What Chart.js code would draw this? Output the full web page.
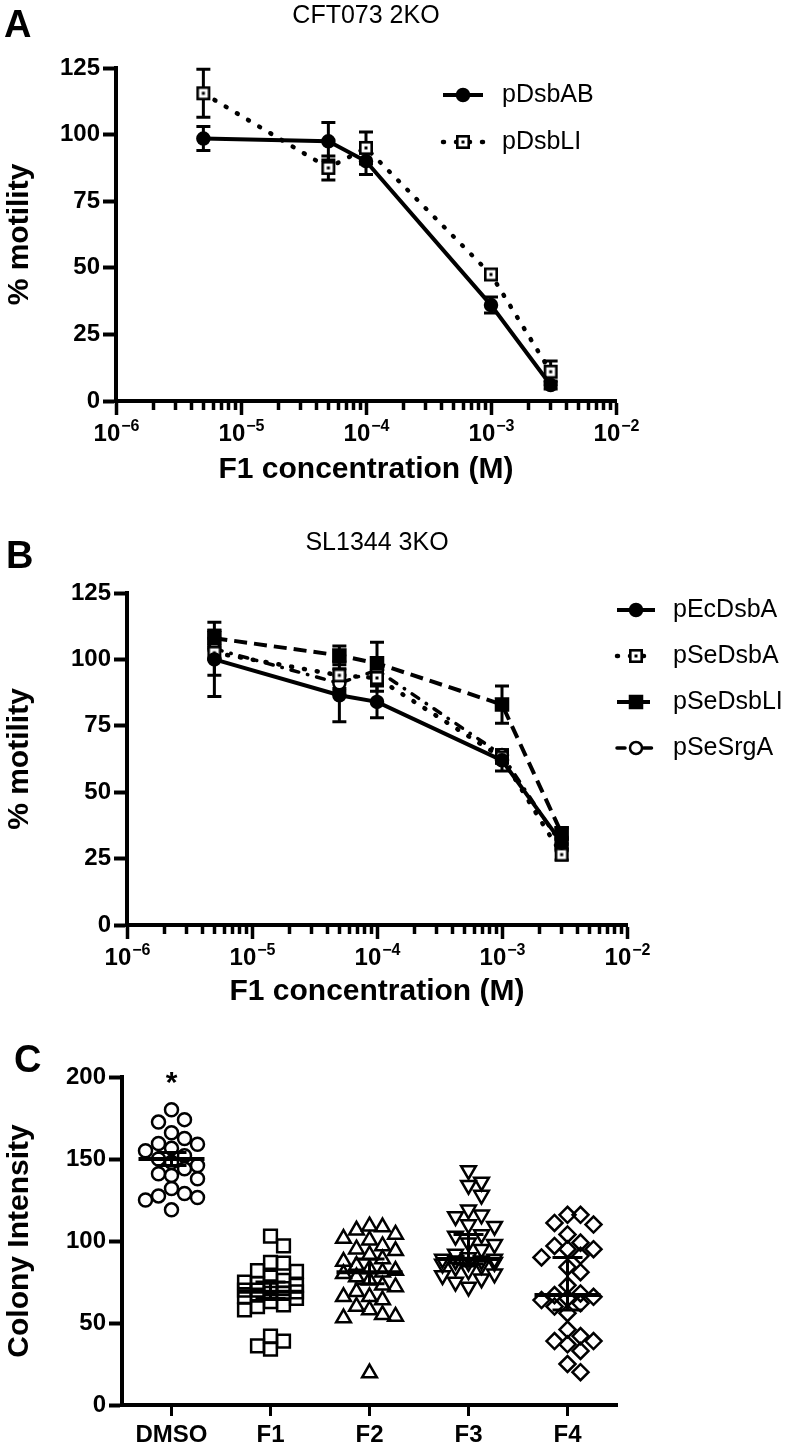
<!DOCTYPE html>
<html>
<head>
<meta charset="utf-8">
<script src="https://cdn.jsdelivr.net/npm/chart.js@4.4.1/dist/chart.umd.min.js"></script>
<style>
  html, body { margin: 0; padding: 0; background: #fff; }
  body { width: 792px; height: 1448px; position: relative; overflow: hidden; }
  canvas { position: absolute; left: 0; }
  #chartA { top: 0; }
  #chartB { top: 490px; }
  #chartC { top: 1010px; }
</style>
</head>
<body>
<canvas id="chartA" width="792" height="490"></canvas>
<canvas id="chartB" width="792" height="520"></canvas>
<canvas id="chartC" width="792" height="438"></canvas>
<script>
// panel A - CFT073 2KO
const concA = [5e-6, 5e-5, 1e-4, 1e-3, 3e-3];
const dsbAB = [98.5, 97.5, 90, 36, 6];
const dsbABErr = [4.5, 7, 5, 3, 1.5];
const dsbLI = [115.5, 87.5, 95, 47.5, 11];
const dsbLIErr = [9, 4.5, 6, 1.5, 4];

// panel B - SL1344 3KO
const concB = [5e-6, 5e-5, 1e-4, 1e-3, 3e-3];
const ecDsbA = [100, 86.5, 84, 62, 31];
const ecDsbAErr = [14, 10, 6, 4, 2];
const seDsbA = [102.5, 94, 93, 63, 26.5];
const seDsbAErr = [8.5, 5, 5, 2, 2];
const seDsbLI = [108, 101.5, 98.5, 83, 34.5];
const seDsbLIErr = [3, 3.5, 8, 7, 2];
const seSrgA = [104, 91, 96, 64, 30];
const seSrgAErr = [4, 3, 4, 2, 2];

const decadeExps = [-6, -5, -4, -3, -2];
const motilityTicks = [0, 25, 50, 75, 100, 125];

// panel C - colony intensity
const groups = ['DMSO', 'F1', 'F2', 'F3', 'F4'];
const dmso = [180, 174, 172.5, 166, 162.5, 159.5, 159, 156.5, 155, 152, 150, 148, 146, 144, 141, 140, 138, 132, 129, 127.5, 126.5, 125, 119];
const f1 = [103, 97, 87, 86.5, 82, 81.5, 78, 76, 75, 74, 73, 72, 71, 70, 70, 69, 68, 68, 67, 66, 65, 63, 61, 60, 58, 42, 39, 36, 34];
const f2 = [109, 108.5, 106.5, 104, 101.5, 100.5, 97, 95, 94, 91.5, 89, 87.5, 85, 83, 82, 81, 80, 78, 76, 73, 72, 69, 66, 66, 64, 60, 58, 55, 54, 53, 19.5];
const f3 = [143, 136, 134, 128, 119, 116, 115, 110, 109, 104, 103, 99, 98, 95, 92, 90, 89, 89, 88, 88, 87, 87, 86, 85, 84, 82, 80, 79, 77, 75, 72];
const f4 = [116, 116, 111, 110, 104, 99, 97, 95, 95, 91, 90, 84, 81, 73, 68, 67, 66, 65, 64, 62, 60, 56, 46, 42, 39, 39, 37, 33, 25, 20];
const groupMid = [150, 69, 81, 89, 67];
const groupLow = [146, 65, 74, 86, 58];
const groupHigh = [154, 75, 89, 104, 90];
const intensityTicks = [0, 50, 100, 150, 200];
const starGroup = 0;

const FONT = '"Liberation Sans", Arial, Helvetica, sans-serif';
Chart.defaults.color = '#000';
Chart.defaults.font.family = FONT;

// open square with a dot in the middle
function boxDot() {
  const c = document.createElement('canvas');
  c.width = 16; c.height = 16;
  const g = c.getContext('2d');
  g.fillStyle = '#fff'; g.fillRect(2, 2, 12, 12);
  g.strokeStyle = '#000'; g.lineWidth = 2.6; g.strokeRect(2.3, 2.3, 11.4, 11.4);
  g.fillStyle = '#000'; g.fillRect(6.5, 6.5, 3, 3);
  return c;
}
const boxDotImg = boxDot();

function pts(xs, ys) { return xs.map((x, i) => ({x: x, y: ys[i]})); }

// draws vertical error bars from ds.errors
const errorBars = {
  id: 'errorBars',
  beforeDatasetsDraw(chart) {
    const ctx = chart.ctx;
    chart.data.datasets.forEach((ds, di) => {
      if (!ds.errors) return;
      const meta = chart.getDatasetMeta(di);
      const ys = chart.scales[meta.yAxisID];
      ctx.save();
      ctx.strokeStyle = '#000'; ctx.lineWidth = 3; ctx.setLineDash([]);
      meta.data.forEach((pt, i) => {
        const v = ds.data[i].y, e = ds.errors[i];
        const y1 = ys.getPixelForValue(v + e), y2 = ys.getPixelForValue(v - e);
        ctx.beginPath();
        ctx.moveTo(pt.x, y1); ctx.lineTo(pt.x, y2);
        ctx.moveTo(pt.x - 7, y1); ctx.lineTo(pt.x + 7, y1);
        ctx.moveTo(pt.x - 7, y2); ctx.lineTo(pt.x + 7, y2);
        ctx.stroke();
      });
      ctx.restore();
    });
  }
};

// power-of-ten labels with a real raised exponent
const decadeLabels = {
  id: 'decadeLabels',
  afterDraw(chart) {
    const ctx = chart.ctx, xs = chart.scales.x;
    const y = xs.top + 40;
    ctx.save();
    ctx.fillStyle = '#000';
    ctx.textBaseline = 'alphabetic';
    ctx.textAlign = 'left';
    decadeExps.forEach(e => {
      const x = xs.getPixelForValue(Math.pow(10, e));
      const base = '10', exp = String(e).replace('-', '\u2212');
      ctx.font = 'bold 24px ' + FONT;
      const wb = ctx.measureText(base).width;
      ctx.font = 'bold 16px ' + FONT;
      const we = ctx.measureText(exp).width;
      const start = x - (wb + we) / 2;
      ctx.font = 'bold 24px ' + FONT;
      ctx.fillText(base, start, y);
      ctx.font = 'bold 16px ' + FONT;
      ctx.fillText(exp, start + wb + 1, y - 10);
    });
    ctx.restore();
  }
};

// legend with line sample + marker, placed freely
const lineLegend = {
  id: 'lineLegend',
  afterDatasetsDraw(chart, args, opts) {
    if (!opts || opts.x == null) return;
    const ctx = chart.ctx;
    chart.data.datasets.forEach((ds, i) => {
      const y = opts.y + i * opts.dy;
      ctx.save();
      ctx.strokeStyle = '#000';
      ctx.lineWidth = ds.borderWidth;
      ctx.lineCap = ds.borderCapStyle || 'butt';
      ctx.setLineDash(ds.borderDash || []);
      ctx.beginPath(); ctx.moveTo(opts.x, y); ctx.lineTo(opts.x + opts.w, y); ctx.stroke();
      ctx.setLineDash([]);
      ctx.fillStyle = ds.pointBackgroundColor;
      ctx.strokeStyle = ds.pointBorderColor;
      ctx.lineWidth = ds.pointBorderWidth;
      Chart.helpers.drawPoint(ctx, {pointStyle: ds.pointStyle, radius: ds.pointRadius, borderWidth: ds.pointBorderWidth, rotation: 0}, opts.x + opts.w / 2, y);
      ctx.fillStyle = '#000';
      ctx.font = '25px ' + FONT;
      ctx.textAlign = 'left'; ctx.textBaseline = 'middle';
      ctx.fillText(ds.label, opts.x + opts.w + opts.gap, y);
      ctx.restore();
    });
  }
};

// panel letter and title
const panelText = {
  id: 'panelText',
  afterDraw(chart, args, opts) {
    const ctx = chart.ctx, area = chart.chartArea;
    ctx.save();
    ctx.fillStyle = '#000';
    ctx.textBaseline = 'alphabetic';
    ctx.textAlign = 'left';
    ctx.font = 'bold 38px ' + FONT;
    ctx.fillText(opts.letter, opts.letterX, opts.letterY);
    if (opts.title) {
      ctx.font = '25px ' + FONT;
      ctx.textAlign = 'center';
      ctx.fillText(opts.title, (area.left + area.right) / 2, opts.titleY);
    }
    ctx.restore();
  }
};

function buildLogTicks(scale) {
  const ticks = [];
  decadeExps.forEach((e, i) => {
    const n = i < decadeExps.length - 1 ? 9 : 1;
    for (let m = 1; m <= n; m++) ticks.push({value: m * Math.pow(10, e), major: m === 1});
  });
  scale.ticks = ticks;
}

function yAxis(width, max, tickVals, title) {
  return {
    type: 'linear', position: 'left', min: 0, max: max,
    afterBuildTicks: s => { s.ticks = tickVals.map(v => ({value: v})); },
    afterFit: s => { s.width = width; },
    border: {color: '#000', width: 4},
    grid: {drawOnChartArea: false, tickLength: 13, tickWidth: 4, tickColor: '#000'},
    ticks: {color: '#000', padding: 3, font: {family: FONT, size: 24, weight: 'bold'}},
    title: {display: true, text: title, color: '#000', font: {family: FONT, size: 30, weight: 'bold'}, padding: {top: 2, bottom: 0}}
  };
}

function logXAxis(height, padBottom) {
  return {
    type: 'logarithmic', position: 'bottom', min: 1e-6, max: 1e-2,
    afterBuildTicks: buildLogTicks,
    afterFit: s => { s.height = height; },
    border: {color: '#000', width: 4},
    grid: {
      drawOnChartArea: false, tickLength: 14, tickWidth: 3.5, tickColor: '#000',
      tickBorderDash: c => (c.tick && c.tick.major) ? [] : [7, 30]
    },
    ticks: {autoSkip: false, maxRotation: 0, callback: () => ''},
    title: {display: true, text: 'F1 concentration (M)', color: '#000', font: {family: FONT, size: 30, weight: 'bold'}, padding: {top: 0, bottom: padBottom}}
  };
}

function lineSet(label, xs, ys, errs, style) {
  return Object.assign({
    label: label,
    data: pts(xs, ys),
    errors: errs,
    borderColor: '#000',
    borderWidth: 4,
    borderDash: [],
    borderCapStyle: 'butt',
    tension: 0,
    pointBackgroundColor: '#000',
    pointBorderColor: '#000',
    pointBorderWidth: 2.5,
    pointRadius: 6,
    pointStyle: 'circle'
  }, style);
}

const dotted = {borderDash: [1, 12], borderCapStyle: 'round', borderWidth: 4.5};
const openBox = {pointStyle: boxDotImg, pointRadius: 8, pointBackgroundColor: '#fff'};

const commonOpts = {
  responsive: false,
  animation: false,
  events: []
};

new Chart(document.getElementById('chartA'), {
  type: 'line',
  data: {
    datasets: [
      lineSet('pDsbAB', concA, dsbAB, dsbABErr, {}),
      lineSet('pDsbLI', concA, dsbLI, dsbLIErr, Object.assign({}, dotted, openBox))
    ]
  },
  options: Object.assign({}, commonOpts, {
    layout: {padding: {top: 68, left: 0, right: 176, bottom: 0}},
    scales: {
      x: logXAxis(89, 2),
      y: yAxis(116, 125, motilityTicks, '% motility')
    },
    plugins: {
      legend: {display: false},
      tooltip: {enabled: false},
      lineLegend: {x: 443, y: 95, dy: 47, w: 40, gap: 19},
      panelText: {letter: 'A', letterX: 4, letterY: 37, title: 'CFT073 2KO', titleY: 23}
    }
  }),
  plugins: [errorBars, lineLegend, panelText, decadeLabels]
});

new Chart(document.getElementById('chartB'), {
  type: 'line',
  data: {
    datasets: [
      lineSet('pEcDsbA', concB, ecDsbA, ecDsbAErr, {}),
      lineSet('pSeDsbA', concB, seDsbA, seDsbAErr, Object.assign({}, dotted, openBox)),
      lineSet('pSeDsbLI', concB, seDsbLI, seDsbLIErr, {borderDash: [13, 7], pointStyle: 'rect', pointRadius: 8.5}),
      lineSet('pSeSrgA', concB, seSrgA, seSrgAErr, {borderDash: [8, 9, 0.5, 9], borderCapStyle: 'round', borderWidth: 3.5, pointBackgroundColor: '#fff', pointRadius: 6})
    ]
  },
  options: Object.assign({}, commonOpts, {
    layout: {padding: {top: 103, left: 0, right: 165, bottom: 0}},
    scales: {
      x: logXAxis(85, 0),
      y: yAxis(127, 125, motilityTicks, '% motility')
    },
    plugins: {
      legend: {display: false},
      tooltip: {enabled: false},
      lineLegend: {x: 617, y: 120, dy: 46, w: 38, gap: 18},
      panelText: {letter: 'B', letterX: 6, letterY: 78, title: 'SL1344 3KO', titleY: 60}
    }
  }),
  plugins: [errorBars, lineLegend, panelText, decadeLabels]
});

// simple beeswarm spread so points do not sit on top of each other
function swarm(values, pxPerUnit, pxPerCat) {
  const d = 13, step = 13, maxK = 2;
  const order = values.map((v, i) => i).sort((a, b) => values[b] - values[a]);
  const placed = [];
  const offs = new Array(values.length).fill(0);
  order.forEach(i => {
    const y = values[i] * pxPerUnit;
    let best = 0, bestGap = -1;
    for (let k = 0; k <= 2 * maxK; k++) {
      const x = k === 0 ? 0 : (k % 2 ? 1 : -1) * Math.ceil(k / 2) * step;
      let gap = Infinity;
      placed.forEach(p => { gap = Math.min(gap, Math.hypot(p.x - x, p.y - y)); });
      if (gap >= d) { best = x; bestGap = gap; break; }
      if (gap > bestGap) { bestGap = gap; best = x; }
    }
    placed.push({x: best, y: y});
    offs[i] = best / pxPerCat;
  });
  return offs;
}

const groupValues = [dmso, f1, f2, f3, f4];
const groupStyles = [
  {pointStyle: 'circle', pointRadius: 6.5, pointRotation: 0},
  {pointStyle: 'rect', pointRadius: 9, pointRotation: 0},
  {pointStyle: 'triangle', pointRadius: 8.5, pointRotation: 0},
  {pointStyle: 'triangle', pointRadius: 8.5, pointRotation: 180},
  {pointStyle: 'rectRot', pointRadius: 8, pointRotation: 0}
];

const scatterSets = groupValues.map((vals, gi) => {
  const offs = swarm(vals, 328 / 200, 495 / 5);
  return Object.assign({
    label: groups[gi],
    data: vals.map((v, i) => ({x: gi + offs[i], y: v})),
    pointBackgroundColor: 'rgba(0,0,0,0)',
    pointBorderColor: '#000',
    pointBorderWidth: 2.5,
    showLine: false
  }, groupStyles[gi]);
});

const summaryLines = {
  id: 'summaryLines',
  afterDatasetsDraw(chart) {
    const ctx = chart.ctx, xs = chart.scales.x, ys = chart.scales.y;
    ctx.save();
    ctx.strokeStyle = '#000';
    groups.forEach((g, i) => {
      const cx = xs.getPixelForValue(i);
      const ym = ys.getPixelForValue(groupMid[i]);
      const yl = ys.getPixelForValue(groupLow[i]);
      const yh = ys.getPixelForValue(groupHigh[i]);
      ctx.lineWidth = 3;
      ctx.beginPath();
      ctx.moveTo(cx, yh); ctx.lineTo(cx, yl);
      ctx.moveTo(cx - 15, yh); ctx.lineTo(cx + 15, yh);
      ctx.moveTo(cx - 15, yl); ctx.lineTo(cx + 15, yl);
      ctx.stroke();
      ctx.lineWidth = 4;
      ctx.beginPath();
      ctx.moveTo(cx - 33, ym); ctx.lineTo(cx + 33, ym);
      ctx.stroke();
    });
    ctx.fillStyle = '#000';
    ctx.font = 'bold 30px ' + FONT;
    ctx.textAlign = 'center';
    ctx.textBaseline = 'middle';
    ctx.fillText('*', xs.getPixelForValue(starGroup), ys.getPixelForValue(196));
    ctx.restore();
  }
};

new Chart(document.getElementById('chartC'), {
  type: 'scatter',
  data: {datasets: scatterSets},
  options: Object.assign({}, commonOpts, {
    layout: {padding: {top: 67, left: 0, right: 175, bottom: 0}},
    scales: {
      x: {
        type: 'linear', position: 'bottom', min: -0.5, max: 4.5,
        afterBuildTicks: s => { s.ticks = groups.map((g, i) => ({value: i})); },
        afterFit: s => { s.height = 43; },
        border: {color: '#000', width: 4},
        grid: {drawOnChartArea: false, tickLength: 11, tickWidth: 3, tickColor: '#000'},
        ticks: {autoSkip: false, maxRotation: 0, color: '#000', padding: 5,
          font: {family: FONT, size: 24, weight: 'bold'},
          callback: v => groups[Math.round(v)]}
      },
      y: yAxis(122, 200, intensityTicks, 'Colony Intensity')
    },
    plugins: {
      legend: {display: false},
      tooltip: {enabled: false},
      panelText: {letter: 'C', letterX: 14, letterY: 62, title: ''}
    }
  }),
  plugins: [summaryLines, panelText]
});
</script>
</body>
</html>
